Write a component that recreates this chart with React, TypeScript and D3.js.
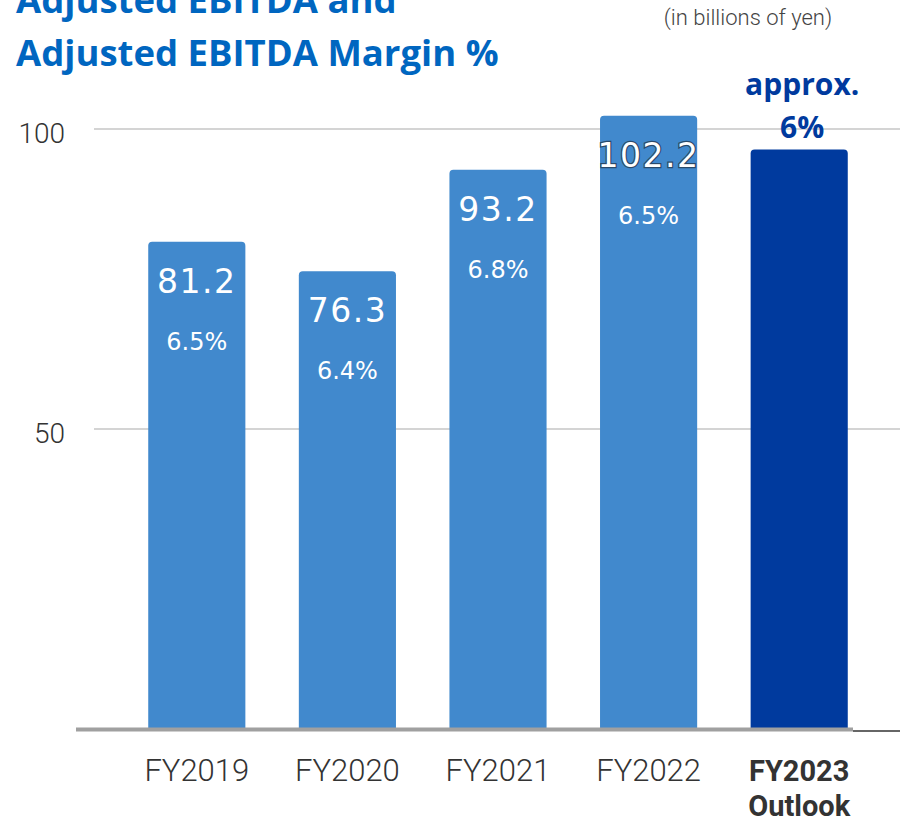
import { useEffect } from 'react';
import * as d3 from 'd3';

// Données (milliards de yens)
const CATEGORIES = ['FY2019', 'FY2020', 'FY2021', 'FY2022', 'FY2023'];
const EBITDA = [81.2, 76.3, 93.2, 102.2, 96.6];
const MARGINS = ['6.5%', '6.4%', '6.8%', '6.5%', ''];
const Y_TICKS = [50, 100];

const W = 900;
const H = 824;

const BLUE = '#4189cd';
const DARK = '#003a9e';
const TITLE = '#0066c0';

export default function App() {
  useEffect(() => {
    document.body.style.margin = '0';
  }, []);

  const x = d3.scaleBand().domain(CATEGORIES).range([121.5, 874.5]).paddingInner(0.355).paddingOuter(0.1775);
  const y = d3.scaleLinear().domain([0, 100]).range([729, 129]);
  const bw = x.bandwidth();

  const barPath = (x0: number, y0: number, w: number, h: number) => {
    const r = 4;
    const p = d3.path();
    p.moveTo(x0, y0 + h);
    p.lineTo(x0, y0 + r);
    p.quadraticCurveTo(x0, y0, x0 + r, y0);
    p.lineTo(x0 + w - r, y0);
    p.quadraticCurveTo(x0 + w, y0, x0 + w, y0 + r);
    p.lineTo(x0 + w, y0 + h);
    p.closePath();
    return p.toString();
  };

  const last = CATEGORIES[CATEGORIES.length - 1];
  const lastCx = (x(last) ?? 0) + bw / 2;

  return (
    <div style={{ width: W, height: H, overflow: 'hidden' }}>
      <svg width={W} height={H} style={{ display: 'block', background: '#fff' }}>
        {/* Titre */}
        <g fontFamily="'Open Sans', sans-serif" fontWeight={700} fill={TITLE} fontSize={36.5}>
          <text x={16} y={13}>Adjusted EBITDA and</text>
          <text x={16} y={66}>Adjusted EBITDA Margin %</text>
        </g>
        <text x={748} y={25} textAnchor="middle" fontFamily="Roboto, sans-serif" fontWeight={300}
          fontSize={22} fill="#444">(in billions of yen)</text>

        {/* Grille */}
        {Y_TICKS.map(t => (
          <g key={t}>
            <line x1={94} x2={W} y1={y(t)} y2={y(t)} stroke="#d4d4d4" strokeWidth={2} />
            <text x={65} y={y(t) + 14} textAnchor="end" fontFamily="Roboto, sans-serif" fontWeight={300}
              fontSize={28} fill="#333">{t}</text>
          </g>
        ))}

        {/* Barres */}
        {CATEGORIES.map((c, i) => {
          const x0 = x(c) ?? 0;
          const top = y(EBITDA[i]);
          const isLast = i === CATEGORIES.length - 1;
          return (
            <path key={c} d={barPath(x0, top, bw, y(0) - top)} fill={isLast ? DARK : BLUE} />
          );
        })}

        {/* Étiquettes dans les barres */}
        {CATEGORIES.slice(0, 4).map((c, i) => {
          const cx = (x(c) ?? 0) + bw / 2;
          const top = y(EBITDA[i]);
          const outlined = EBITDA[i] > 100;
          return (
            <g key={c} fill="#fff" textAnchor="middle" fontFamily="'DejaVu Sans', sans-serif">
              <text x={cx} y={top + 51} fontSize={33} letterSpacing={1.5}
                stroke={outlined ? '#2a4a6a' : 'none'} strokeWidth={outlined ? 2.5 : 0}
                paintOrder="stroke">{EBITDA[i].toFixed(1)}</text>
              <text x={cx} y={top + 108} fontSize={24}>{MARGINS[i]}</text>
            </g>
          );
        })}

        {/* Prévision */}
        <g fontFamily="'Open Sans', sans-serif" fontWeight={700} fill={DARK} textAnchor="middle" fontSize={30}>
          <text x={lastCx + 3} y={95}>approx.</text>
          <text x={lastCx + 3} y={138}>6%</text>
        </g>

        {/* Ligne de base */}
        <line x1={76} x2={853} y1={729.5} y2={729.5} stroke="#a0a0a0" strokeWidth={4} />
        <line x1={853} x2={W} y1={731} y2={731} stroke="#333" strokeWidth={1.5} />

        {/* Axe X */}
        {CATEGORIES.map(c => {
          const cx = (x(c) ?? 0) + bw / 2;
          const isLast = c === last;
          return (
            <g key={c} textAnchor="middle" fill="#333" fontFamily="Roboto, sans-serif" fontSize={isLast ? 29 : 31}>
              <text x={cx} y={781} fontWeight={isLast ? 700 : 300}>{c}</text>
              {isLast && <text x={cx} y={816} fontWeight={700}>Outlook</text>}
            </g>
          );
        })}
      </svg>
    </div>
  );
}
